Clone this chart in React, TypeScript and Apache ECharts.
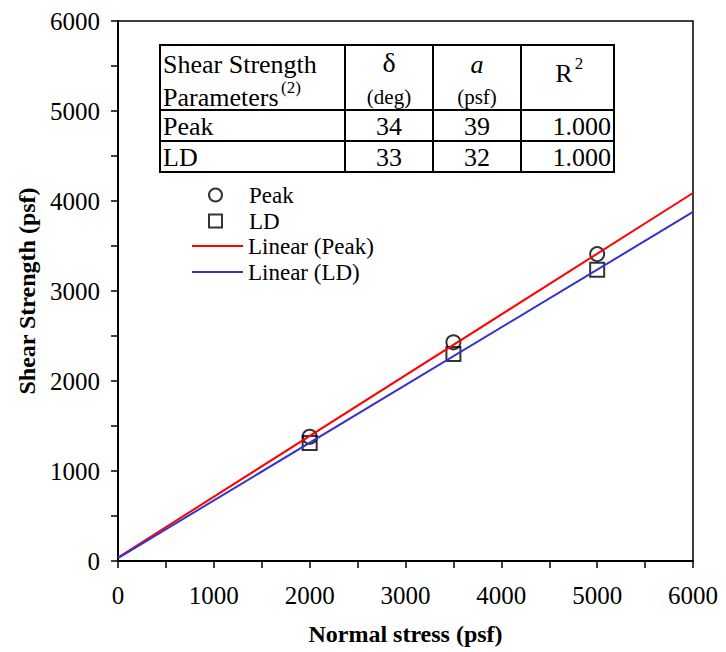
import React, { useEffect, useRef } from "react";
import * as echarts from "echarts";

// ---- data ----
const peakPoints: number[][] = [
  [2000, 1380],
  [3500, 2430],
  [5000, 3410],
];
const ldPoints: number[][] = [
  [2000, 1310],
  [3500, 2300],
  [5000, 3235],
];
const peakFit: number[][] = [
  [0, 39],
  [6000, 4089],
];
const ldFit: number[][] = [
  [0, 32],
  [6000, 3878],
];
const seriesNames = ["Peak", "LD", "Linear (Peak)", "Linear (LD)"];
const tableHeaderTop = ["Shear Strength", "δ", "a", "R"];
const tableHeaderBottom = ["Parameters", "(deg)", "(psf)", ""];
const tableRows: string[][] = [
  ["Peak", "34", "39", "1.000"],
  ["LD", "33", "32", "1.000"],
];

const SERIF = "Liberation Serif";

export default function App() {
  const ref = useRef<HTMLDivElement>(null);

  useEffect(() => {
    if (!ref.current) return;
    const chart = echarts.init(ref.current, null, { renderer: "svg" });

    const txt = (
      text: string,
      x: number,
      y: number,
      size: number,
      align: string,
      extra: any = {}
    ) => ({
      type: "text",
      x,
      y,
      silent: true,
      style: {
        text,
        fill: "#000",
        fontSize: size,
        fontFamily: SERIF,
        align,
        verticalAlign: "middle",
        textAlign: align,
        textVerticalAlign: "middle",
        ...extra,
      },
    });

    // table geometry
    const tL = 160,
      tR = 614,
      tT = 45,
      tB = 172;
    const colX = [345, 433, 521];
    const rowY = [110, 141];
    const colCenter = [0, 389, 477, 567];
    const rowCenter = [126, 157];

    const lineEl = (x1: number, y1: number, x2: number, y2: number) => ({
      type: "line",
      silent: true,
      shape: { x1, y1, x2, y2 },
      style: { stroke: "#000", lineWidth: 2 },
    });

    const graphics: any[] = [
      {
        type: "rect",
        silent: true,
        shape: { x: tL, y: tT, width: tR - tL, height: tB - tT },
        style: { fill: "#fff", stroke: "#000", lineWidth: 2 },
      },
      ...colX.map((x) => lineEl(x, tT, x, tB)),
      ...rowY.map((y) => lineEl(tL, y, tR, y)),
      txt(tableHeaderTop[0], 163, 64, 26, "left"),
      txt(tableHeaderBottom[0], 163, 97, 26, "left"),
      txt("(2)", 281, 87, 17, "left"),
      txt(tableHeaderTop[1], colCenter[1], 62, 28, "center"),
      txt(tableHeaderBottom[1], colCenter[1], 97, 21, "center"),
      txt(tableHeaderTop[2], colCenter[2], 64, 26, "center", {
        fontStyle: "italic",
      }),
      txt(tableHeaderBottom[2], colCenter[2], 97, 21, "center"),
      txt(tableHeaderTop[3], 564, 73, 26, "center"),
      txt("2", 579, 63, 17, "center"),
    ];
    tableRows.forEach((row, r) => {
      graphics.push(txt(row[0], 163, rowCenter[r], 26, "left"));
      graphics.push(txt(row[1], colCenter[1], rowCenter[r], 26, "center"));
      graphics.push(txt(row[2], colCenter[2], rowCenter[r], 26, "center"));
      graphics.push(txt(row[3], 611, rowCenter[r], 26, "right"));
    });

    const axisCommon = {
      min: 0,
      max: 6000,
      interval: 1000,
      axisLine: { show: true, onZero: false, lineStyle: { color: "#000", width: 2 } },
      axisTick: { show: true, inside: false, length: 7, lineStyle: { color: "#000", width: 1.5 } },
      minorTick: { show: true, splitNumber: 2, length: 7, lineStyle: { color: "#000", width: 1.5 } },
      splitLine: { show: false },
      minorSplitLine: { show: false },
      axisLabel: {
        color: "#000",
        fontSize: 25,
        fontFamily: SERIF,
        formatter: (v: number) => String(v),
      },
      nameLocation: "middle" as const,
      nameTextStyle: { color: "#000", fontSize: 24, fontWeight: "bold", fontFamily: SERIF },
    };

    chart.setOption({
      animation: false,
      backgroundColor: "#fff",
      grid: {
        left: 118,
        right: 33,
        top: 21,
        bottom: 91,
        show: true,
        borderColor: "#000",
        borderWidth: 1.5,
        backgroundColor: "transparent",
      },
      xAxis: {
        type: "value",
        ...axisCommon,
        name: "Normal stress (psf)",
        nameGap: 61,
        axisLabel: { ...axisCommon.axisLabel, margin: 22 },
      },
      yAxis: {
        type: "value",
        ...axisCommon,
        name: "Shear Strength (psf)",
        nameGap: 70,
        axisLabel: { ...axisCommon.axisLabel, margin: 18 },
      },
      legend: [
        {
          data: [
            { name: seriesNames[0], icon: "circle" },
            { name: seriesNames[1], icon: "rect" },
          ],
          orient: "vertical",
          left: 208,
          top: 183.5,
          padding: 0,
          itemWidth: 13,
          itemHeight: 13,
          itemGap: 3,
          selectedMode: false,
          textStyle: {
            color: "#000",
            fontSize: 23,
            fontFamily: SERIF,
            padding: [0, 0, 0, 22],
          },
        },
        {
          data: [
            { name: seriesNames[2], icon: "rect" },
            { name: seriesNames[3], icon: "rect" },
          ],
          orient: "vertical",
          left: 192,
          top: 234.5,
          padding: 0,
          itemWidth: 51,
          itemHeight: 2,
          itemGap: 3,
          selectedMode: false,
          textStyle: { color: "#000", fontSize: 23, fontFamily: SERIF },
        },
      ],
      series: [
        {
          name: seriesNames[0],
          type: "scatter",
          data: peakPoints,
          symbol: "circle",
          symbolSize: 14,
          itemStyle: { color: "rgba(255,255,255,0)", borderColor: "#000", borderWidth: 2 },
          z: 3,
        },
        {
          name: seriesNames[1],
          type: "scatter",
          data: ldPoints,
          symbol: "rect",
          symbolSize: 14,
          itemStyle: { color: "rgba(255,255,255,0)", borderColor: "#000", borderWidth: 2 },
          z: 3,
        },
        {
          name: seriesNames[2],
          type: "line",
          data: peakFit,
          symbol: "none",
          showSymbol: false,
          lineStyle: { color: "#ff0000", width: 2 },
          itemStyle: { color: "#ff0000" },
          z: 4,
        },
        {
          name: seriesNames[3],
          type: "line",
          data: ldFit,
          symbol: "none",
          showSymbol: false,
          lineStyle: { color: "#3333cc", width: 2 },
          itemStyle: { color: "#3333cc" },
          z: 4,
        },
      ],
      graphic: graphics,
    });

    return () => chart.dispose();
  }, []);

  return (
    <div
      ref={ref}
      style={{ position: "absolute", left: 0, top: 0, width: 726, height: 652 }}
    />
  );
}
